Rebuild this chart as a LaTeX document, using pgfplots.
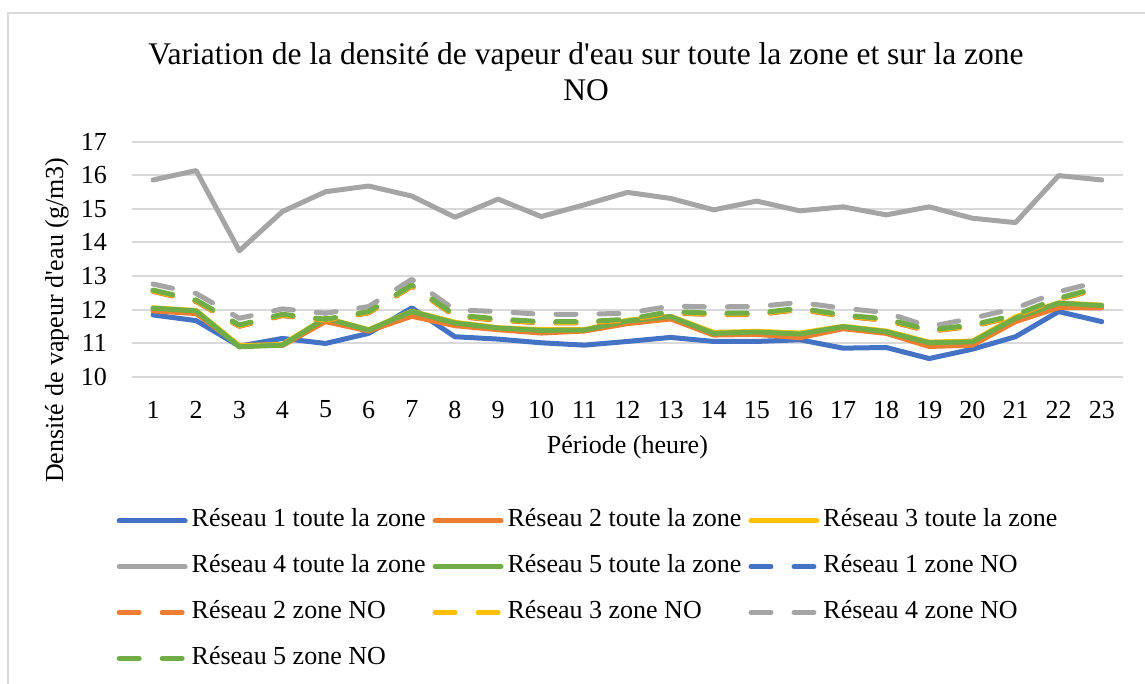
\documentclass[border=0pt]{standalone}
\usepackage{fontspec}
\setmainfont{Liberation Serif}[Ligatures=TeXOff]
\usepackage{pgfplots}
\usepackage{pgfplotstable}
\pgfplotsset{compat=1.18}
\definecolor{cblue}{HTML}{4472C4}
\definecolor{corange}{HTML}{ED7D31}
\definecolor{cgray}{HTML}{A5A5A5}
\definecolor{cyellow}{HTML}{FFC000}
\definecolor{cgreen}{HTML}{70AD47}
\definecolor{cgrid}{HTML}{D9D9D9}

\pgfplotstableread{
x  r1     r2     r3     r4     r5     n1     n2     n3     n4     n5
1  11.84  11.96  12.05  15.86  12.04  12.55  12.54  12.56  12.76  12.58
2  11.67  11.88  11.97  16.14  11.96  12.25  12.24  12.26  12.48  12.28
3  10.91  10.93  10.92  13.75  10.89  11.51  11.50  11.52  11.74  11.54
4  11.14  10.93  10.96  14.92  10.94  11.83  11.82  11.84  12.02  11.86
5  10.99  11.64  11.75  15.51  11.74  11.68  11.67  11.69  11.89  11.71
6  11.29  11.36  11.40  15.68  11.39  11.91  11.90  11.92  12.09  11.94
7  12.05  11.80  11.95  15.38  11.94  12.70  12.69  12.71  12.90  12.73
8  11.19  11.52  11.62  14.75  11.60  11.81  11.80  11.82  11.99  11.84
9  11.12  11.40  11.46  15.29  11.45  11.69  11.68  11.70  11.94  11.72
10 11.01  11.30  11.40  14.77  11.38  11.61  11.60  11.62  11.86  11.64
11 10.94  11.36  11.40  15.12  11.39  11.61  11.60  11.62  11.86  11.64
12 11.05  11.58  11.68  15.49  11.66  11.68  11.67  11.69  11.89  11.71
13 11.17  11.72  11.80  15.31  11.79  11.91  11.90  11.92  12.10  11.94
14 11.05  11.24  11.32  14.97  11.29  11.86  11.85  11.87  12.08  11.89
15 11.05  11.26  11.35  15.23  11.33  11.86  11.85  11.87  12.09  11.89
16 11.10  11.16  11.30  14.94  11.27  12.01  12.00  12.02  12.21  12.04
17 10.85  11.43  11.50  15.06  11.49  11.81  11.80  11.82  12.04  11.84
18 10.87  11.29  11.36  14.82  11.34  11.69  11.68  11.70  11.91  11.72
19 10.54  10.90  11.03  15.06  11.01  11.36  11.35  11.37  11.49  11.39
20 10.82  10.94  11.06  14.72  11.04  11.51  11.50  11.52  11.74  11.54
21 11.19  11.64  11.78  14.59  11.74  11.81  11.80  11.82  12.04  11.84
22 11.94  12.06  12.20  15.99  12.19  12.31  12.30  12.32  12.53  12.34
23 11.64  12.05  12.13  15.86  12.12  12.65  12.64  12.66  12.85  12.68
}\datatable

\begin{document}
\begin{tikzpicture}[x=1pt,y=1pt]
\useasboundingbox (0,0) rectangle (1145,684);
\clip (0,0) rectangle (1145,684);
\draw[color=cgrid, line width=2pt] (8,671) rectangle (1164,-30);
\node[font=\fontsize{31.5}{36}\selectfont, anchor=base] at (586,619) {Variation de la densité de vapeur d'eau sur toute la zone et sur la zone};
\node[font=\fontsize{31.5}{36}\selectfont, anchor=base] at (586,583) {NO};
\begin{axis}[
  at={(131.5pt,307.3pt)}, anchor=south west,
  scale only axis, width=991.8pt, height=235pt,
  xmin=0.5, xmax=23.5, ymin=10, ymax=17,
  xtick={1,...,23}, ytick={10,...,17},
  /pgf/number format/assume math mode=true,
  ticklabel style={font=\fontsize{26}{30}\selectfont},
  major tick length=0pt,
  axis x line*=bottom, axis y line*=left,
  axis line style={draw=none},
  ymajorgrids, major grid style={color=cgrid, line width=2pt},
  yticklabel style={anchor=east, inner sep=0pt, xshift=-24.5pt},
  xticklabel style={anchor=north, inner sep=0pt, yshift=-24pt},
  xlabel={Période (heure)},
  ylabel={Densité de vapeur d'eau (g/m3)},
  label style={font=\fontsize{26}{30}\selectfont},
  xlabel style={at={(axis description cs:0.5,0)}, anchor=center, yshift=-70.3pt},
  ylabel style={at={(axis description cs:-0.0751,0.24)}, anchor=center},
  every axis plot/.append style={line width=5pt, line join=round, line cap=round},
  legend columns=3,
  legend image code/.code={\draw[#1] (0pt,0pt) -- (66pt,0pt);},
  legend style={draw=none, fill=none, font=\fontsize{26}{30}\selectfont,
    at={(axis description cs:0.4593,-0.906)}, anchor=center,
    column sep=0pt, row sep=21.8pt,
    nodes={inner sep=0pt, anchor=west, text height=18pt, text depth=6pt},
    /tikz/every odd column/.append style={column sep=4pt},
    /tikz/every even column/.append style={column sep=7pt}},
]
\addplot[cblue] table[x=x,y=r1]{\datatable};
\addlegendentry{Réseau 1 toute la zone}
\addplot[corange] table[x=x,y=r2]{\datatable};
\addlegendentry{Réseau 2 toute la zone}
\addplot[cyellow] table[x=x,y=r3]{\datatable};
\addlegendentry{Réseau 3 toute la zone}
\addplot[cgray] table[x=x,y=r4]{\datatable};
\addlegendentry{Réseau 4 toute la zone}
\addplot[cgreen] table[x=x,y=r5]{\datatable};
\addlegendentry{Réseau 5 toute la zone}
\addplot[cblue, dash pattern=on 20pt off 23pt] table[x=x,y=n1]{\datatable};
\addlegendentry{Réseau 1 zone NO}
\addplot[corange, dash pattern=on 20pt off 23pt] table[x=x,y=n2]{\datatable};
\addlegendentry{Réseau 2 zone NO}
\addplot[cyellow, dash pattern=on 20pt off 23pt] table[x=x,y=n3]{\datatable};
\addlegendentry{Réseau 3 zone NO}
\addplot[cgray, dash pattern=on 20pt off 23pt] table[x=x,y=n4]{\datatable};
\addlegendentry{Réseau 4 zone NO}
\addplot[cgreen, dash pattern=on 20pt off 23pt] table[x=x,y=n5]{\datatable};
\addlegendentry{Réseau 5 zone NO}
\end{axis}
\end{tikzpicture}
\end{document}
